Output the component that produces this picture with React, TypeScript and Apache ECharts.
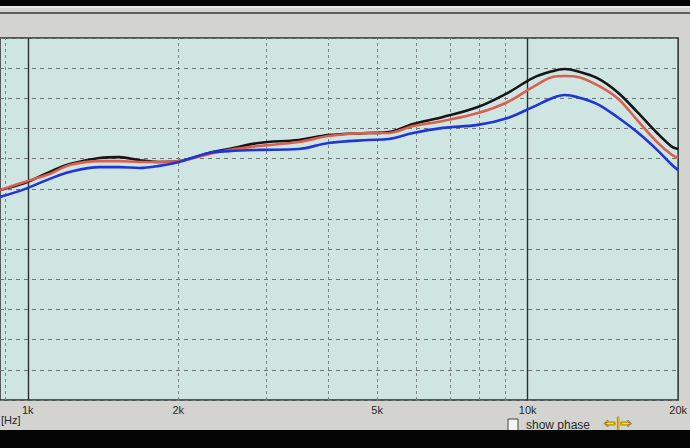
import React, { useEffect, useRef } from "react";
import * as echarts from "echarts";

const freqs = [880, 986, 1106, 1213, 1391, 1525, 1672, 1832, 2008, 2304, 2526, 2899, 3482, 3996, 4801, 5262, 5901, 6771, 7950, 9125, 10233, 11215, 11850, 12577, 13786, 15112, 16562, 18155, 19450, 20000];
const blackVals = [6.96, 7.19, 7.56, 7.82, 8.02, 8.05, 7.95, 7.89, 7.92, 8.19, 8.32, 8.52, 8.62, 8.78, 8.85, 8.88, 9.15, 9.38, 9.71, 10.18, 10.67, 10.9, 10.97, 10.9, 10.67, 10.21, 9.55, 8.85, 8.39, 8.32];
const redVals = [6.96, 7.23, 7.49, 7.79, 7.92, 7.92, 7.89, 7.89, 7.92, 8.15, 8.29, 8.42, 8.55, 8.75, 8.85, 8.85, 9.08, 9.25, 9.51, 9.88, 10.37, 10.71, 10.74, 10.71, 10.44, 10.01, 9.28, 8.55, 8.12, 8.02];
const blueVals = [6.73, 6.99, 7.33, 7.56, 7.72, 7.72, 7.69, 7.76, 7.89, 8.19, 8.25, 8.29, 8.32, 8.52, 8.62, 8.65, 8.85, 9.02, 9.12, 9.35, 9.71, 10.01, 10.11, 10.04, 9.81, 9.38, 8.88, 8.29, 7.79, 7.62];

const xTickLabels = [1000, 2000, 5000, 10000, 20000];
const dashedFreqs = [900, 2000, 3000, 4000, 5000, 6000, 7000, 8000, 9000];
const solidFreqs = [1000, 10000];

export default function App() {
  const ref = useRef<HTMLDivElement>(null);
  useEffect(() => {
    if (!ref.current) return;
    const chart = echarts.init(ref.current, null, { renderer: "svg" });
    const pairs = (vals: number[]) => freqs.map((f, i) => [f, vals[i]]);
    const mk = (color: string, vals: number[], withMarks: boolean) => ({
      type: "line",
      data: pairs(vals),
      smooth: 0.35,
      showSymbol: false,
      lineStyle: { color, width: 2.6 },
      z: 5,
      markLine: withMarks
        ? {
            silent: true,
            symbol: "none",
            label: { show: false },
            z: 1,
            data: [
              ...dashedFreqs.map((f) => ({ xAxis: f, lineStyle: { color: "#7a8583", width: 1, type: [3, 3] } })),
              ...solidFreqs.map((f) => ({ xAxis: f, lineStyle: { color: "#2b2f2e", width: 1.4, type: "solid" } })),
            ],
          }
        : undefined,
    });
    chart.setOption({
      animation: false,
      backgroundColor: "#d3d3cf",
      grid: {
        left: 0,
        right: 9,
        top: 38,
        bottom: 48,
        show: true,
        backgroundColor: "#cfe5e1",
        borderColor: "#2b2f2e",
        borderWidth: 1.5,
      },
      xAxis: {
        type: "log",
        logBase: 10,
        min: 880,
        max: 20000,
        axisLine: { show: false },
        axisTick: { show: false },
        splitLine: { show: false },
        minorSplitLine: { show: false },
        axisLabel: {
          customValues: xTickLabels,
          formatter: (v: number) => `${Math.round(v / 1000)}k`,
          color: "#2a2a2a",
          fontSize: 11,
          fontFamily: "Liberation Sans, Arial, sans-serif",
          margin: 4,
        },
      },
      yAxis: {
        type: "value",
        min: 0,
        max: 12,
        interval: 1,
        axisLine: { show: false },
        axisTick: { show: false },
        axisLabel: { show: false },
        splitLine: { show: true, lineStyle: { color: "#6d7573", width: 1, type: [4, 4] } },
      },
      series: [
        mk("#161616", blackVals, true),
        mk("#db5f50", redVals, false),
        mk("#1f35d6", blueVals, false),
      ],
      graphic: [
        { type: "rect", shape: { x: 0, y: 0, width: 690, height: 6 }, style: { fill: "#050505" }, z: 10 },
        { type: "rect", shape: { x: 0, y: 6, width: 690, height: 2 }, style: { fill: "#e8e8e6" }, z: 10 },
        { type: "rect", shape: { x: 0, y: 12, width: 690, height: 2 }, style: { fill: "#5e5e5c" }, z: 10 },
        { type: "text", x: 1, y: 414, style: { text: "[Hz]", fill: "#2a2a2a", fontSize: 11, fontFamily: "Liberation Sans, Arial, sans-serif" }, z: 10 },
        { type: "rect", shape: { x: 508, y: 419, width: 10, height: 14 }, style: { fill: "#f4f4f2", stroke: "#444", lineWidth: 1 }, z: 10 },
        { type: "text", x: 526, y: 419, style: { text: "show phase", fill: "#2a2a2a", fontSize: 12, fontFamily: "Liberation Sans, Arial, sans-serif" }, z: 10 },
        { type: "text", x: 604, y: 416, style: { text: "⇦|⇨", fill: "#d9bb00", stroke: "#4a4200", lineWidth: 0.6, fontSize: 14, fontFamily: "DejaVu Sans, sans-serif" }, z: 10 },
        { type: "rect", shape: { x: 0, y: 430, width: 690, height: 18 }, style: { fill: "#050505" }, z: 20 },
      ],
    });
    return () => chart.dispose();
  }, []);
  return <div ref={ref} style={{ position: "fixed", left: 0, top: 0, width: 690, height: 448 }} />;
}
